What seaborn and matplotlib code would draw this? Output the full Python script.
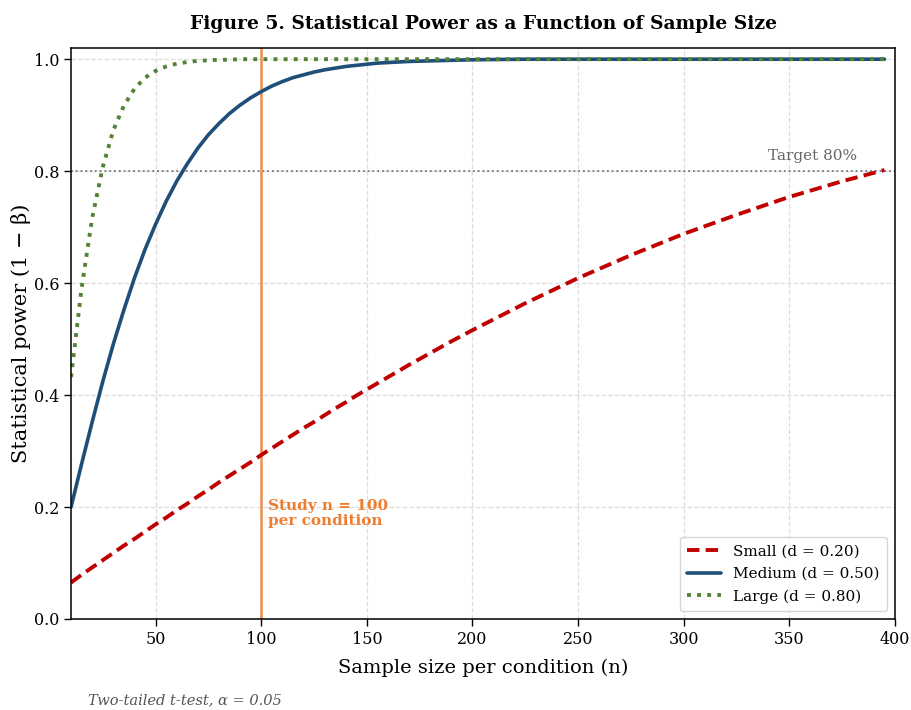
import matplotlib
matplotlib.use("Agg")
import matplotlib.pyplot as plt
import seaborn as sns
import pandas as pd

# Sample sizes per condition
n_values = [10, 15, 20, 25, 30, 35, 40, 45, 50, 55, 60, 65, 70, 75, 80, 85, 90, 95,
            100, 105, 110, 115, 120, 125, 130, 135, 140, 145, 150, 155, 160, 170, 180,
            190, 200, 225, 250, 275, 300, 325, 350, 375, 395]

power_small = [0.065, 0.079, 0.092, 0.105, 0.118, 0.131, 0.143, 0.156, 0.169, 0.181,
               0.194, 0.206, 0.219, 0.231, 0.244, 0.256, 0.268, 0.280,
               0.293, 0.305, 0.317, 0.329, 0.341, 0.352, 0.364, 0.376, 0.387, 0.399,
               0.410, 0.421, 0.432, 0.454, 0.475,
               0.496, 0.516, 0.564, 0.609, 0.650, 0.688, 0.722, 0.754, 0.782, 0.802]

power_medium = [0.200, 0.277, 0.352, 0.424, 0.491, 0.552, 0.609, 0.660, 0.705, 0.746,
                0.782, 0.813, 0.841, 0.865, 0.885, 0.903, 0.918, 0.931,
                0.942, 0.952, 0.960, 0.967, 0.972, 0.977, 0.981, 0.984, 0.987, 0.989,
                0.991, 0.993, 0.994, 0.996, 0.997,
                0.998, 0.999, 1.000, 1.000, 1.000, 1.000, 1.000, 1.000, 1.000, 1.000]

power_large = [0.432, 0.591, 0.716, 0.807, 0.873, 0.917, 0.947, 0.967, 0.979, 0.987,
               0.992, 0.995, 0.997, 0.998, 0.999, 0.999, 1.000, 1.000,
               1.000, 1.000, 1.000, 1.000, 1.000, 1.000, 1.000, 1.000, 1.000, 1.000,
               1.000, 1.000, 1.000, 1.000, 1.000,
               1.000, 1.000, 1.000, 1.000, 1.000, 1.000, 1.000, 1.000, 1.000, 1.000]

series_labels = ["Small (d = 0.20)", "Medium (d = 0.50)", "Large (d = 0.80)"]
study_n = 100
target_power = 0.8

sns.set_theme(style="ticks")
plt.rcParams["font.family"] = ["DejaVu Serif", "DejaVu Sans"]
plt.rcParams["text.color"] = "black"
plt.rcParams["axes.labelcolor"] = "black"
plt.rcParams["xtick.color"] = "black"
plt.rcParams["ytick.color"] = "black"

fig, ax = plt.subplots(figsize=(9.12, 7.10), dpi=100)
fig.subplots_adjust(left=0.0779, right=0.9814, top=0.9324, bottom=0.1282)

styles = [
    dict(color="#C00000", linestyle=(0, (3.2, 1.6)), linewidth=2.8),
    dict(color="#1F4E79", linestyle="-", linewidth=2.6),
    dict(color="#548235", linestyle=(0, (1, 1.6)), linewidth=2.8),
]

for vals, lab, st in zip([power_small, power_medium, power_large], series_labels, styles):
    df = pd.DataFrame({"n": n_values, "power": vals})
    sns.lineplot(data=df, x="n", y="power", ax=ax, label=lab, **st)

ax.axhline(target_power, color="#777777", linestyle=":", linewidth=1.3, zorder=1)
ax.axvline(study_n, color="#ED7D31", linewidth=1.8, alpha=0.85, zorder=1)

ax.text(361, 0.815, "Target 80%", ha="center", va="bottom", color="#666666",
        fontsize=11)
ax.text(103, 0.215, "Study n = 100\nper condition", ha="left", va="top",
        color="#ED7D31", fontsize=11, fontweight="bold", linespacing=1.15)

ax.set_xlim(10, 400)
ax.set_ylim(0, 1.02)
ax.set_xticks([50, 100, 150, 200, 250, 300, 350, 400])
ax.set_yticks([0.0, 0.2, 0.4, 0.6, 0.8, 1.0])
ax.set_yticklabels(["0.0", "0.2", "0.4", "0.6", "0.8", "1.0"])
ax.grid(True, linestyle="--", color="#dddddd", linewidth=0.9)
ax.set_axisbelow(True)

for lbl in ax.get_xticklabels() + ax.get_yticklabels():
    lbl.set_fontsize(11.5)
ax.tick_params(axis="both", length=5, width=1, color="black")

for sp in ax.spines.values():
    sp.set_visible(True)
    sp.set_color("black")
    sp.set_linewidth(1.1)

ax.set_xlabel("Sample size per condition (n)", fontsize=14, labelpad=8)
ax.set_ylabel("Statistical power (1 − β)", fontsize=15, labelpad=2)

ax.set_title("Figure 5. Statistical Power as a Function of Sample Size",
             fontsize=13.5, fontweight="bold", pad=14)

leg = ax.legend(loc="lower right", frameon=True, fancybox=True,
                prop=dict(size=11), handlelength=2.2, borderpad=0.5,
                labelspacing=0.55)
leg.get_frame().set_edgecolor("#cccccc")

fig.text(88 / 912, 1 - 700 / 710, "Two-tailed t-test, α = 0.05", fontsize=10.5,
         style="italic", color="#555555", ha="left", va="center")

fig.savefig("out.png", dpi=100)
